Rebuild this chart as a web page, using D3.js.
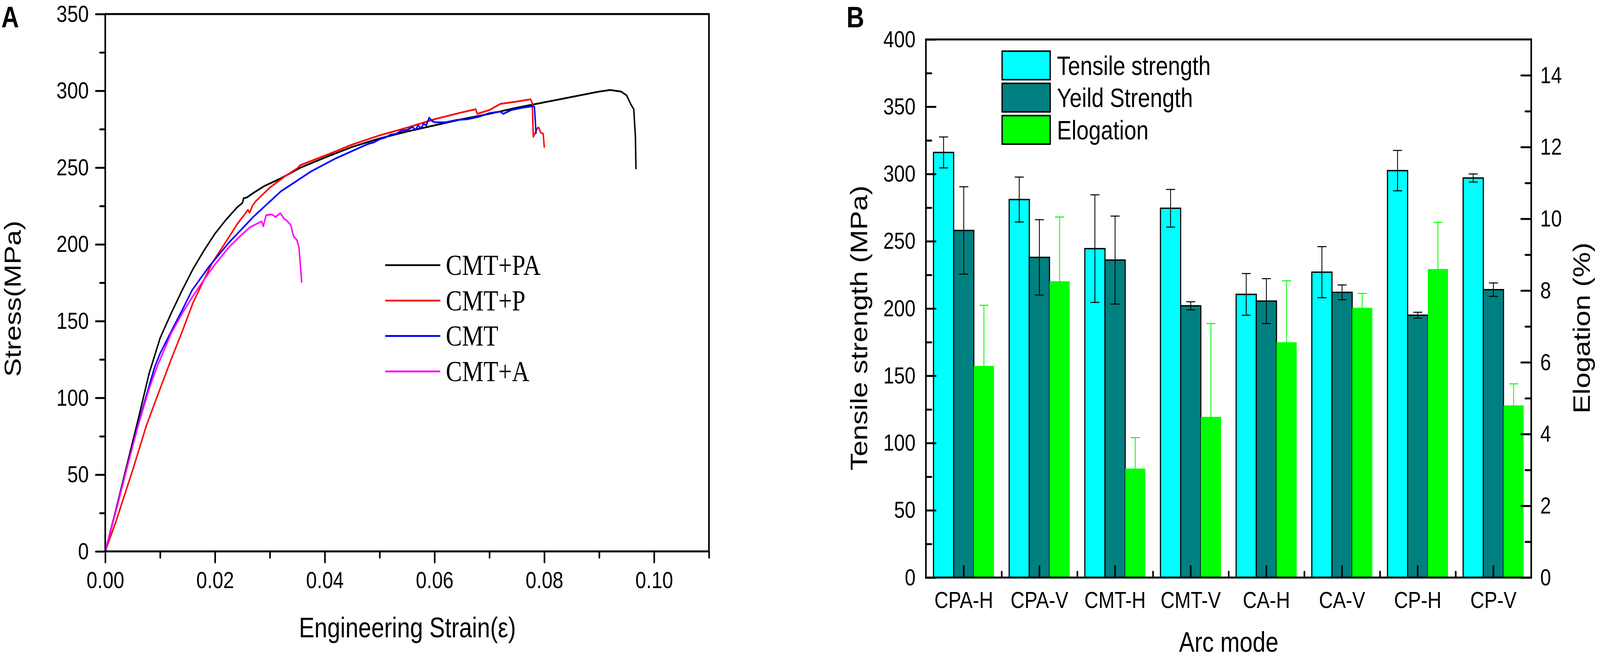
<!DOCTYPE html>
<html>
<head>
<meta charset="utf-8">
<script src="https://cdn.jsdelivr.net/npm/d3@7"></script>
<style>
html, body { margin: 0; padding: 0; background: #fff; overflow: hidden; }
#fig { display: block; width: 100vw; height: 100vh; }
svg text { font-family: "Liberation Sans", Arial, sans-serif; fill: #000; }
</style>
</head>
<body>
<svg id="fig" viewBox="0 0 4956 1685" preserveAspectRatio="none"></svg>
<script>
// ---- panel A: stress-strain curves [strain, stress MPa]
const curveNames = ['CMT+PA', 'CMT+P', 'CMT', 'CMT+A'];
const curveColors = ['#000000', '#ff0000', '#0000ff', '#ff00ff'];
const cmtPA = [[0, 0], [0.002, 28], [0.004, 57], [0.006, 86], [0.008, 116], [0.010, 139], [0.012, 155],
    [0.014, 170], [0.016, 184], [0.018, 196], [0.020, 207], [0.022, 216], [0.024, 224], [0.025, 227],
    [0.0252, 230], [0.0258, 230.5], [0.027, 233.5], [0.029, 238], [0.032, 243], [0.0356, 250], [0.040, 256.5],
    [0.045, 263.5], [0.050, 269], [0.055, 273.5], [0.060, 277.5], [0.065, 281.5], [0.070, 285], [0.075, 289],
    [0.080, 292.5], [0.085, 296], [0.090, 299.5], [0.092, 300.5], [0.094, 299.5], [0.095, 297], [0.0958, 291],
    [0.0963, 288], [0.0966, 270], [0.0967, 249]];
const cmtP = [[0, 0], [0.002, 20], [0.004, 42], [0.005, 53], [0.0075, 82], [0.010, 106], [0.012, 125],
    [0.014, 143], [0.016, 162], [0.018, 177], [0.0195, 188], [0.0225, 204.5], [0.024, 213], [0.0255, 220],
    [0.026, 222.5], [0.0263, 220.5], [0.0268, 225], [0.0274, 228], [0.030, 237], [0.0326, 244], [0.035, 249.5],
    [0.0355, 251.5], [0.0413, 259.6], [0.045, 265], [0.050, 271], [0.055, 276], [0.060, 281.5], [0.065, 286],
    [0.0675, 288], [0.0678, 285], [0.070, 287.5], [0.072, 291.5], [0.075, 293], [0.0775, 294.5], [0.0778, 292],
    [0.0780, 270], [0.0784, 273], [0.0788, 276], [0.079, 276], [0.0793, 273], [0.0798, 272], [0.080, 263]];
const cmt = [[0, 0], [0.002, 27], [0.004, 55], [0.006, 83], [0.008, 108], [0.009, 120], [0.010, 129],
    [0.0124, 146], [0.014, 157], [0.0158, 170], [0.0188, 185], [0.0225, 201], [0.027, 218], [0.032, 234.5],
    [0.0375, 247.5], [0.042, 256], [0.047, 264], [0.048, 265.5], [0.049, 266.5], [0.050, 268.5], [0.051, 269.5],
    [0.052, 271.5], [0.053, 272], [0.054, 274], [0.055, 274.5], [0.056, 276.5], [0.0565, 274.5],
    [0.057, 277.5], [0.0575, 275.5], [0.058, 278.5], [0.0585, 277.5], [0.059, 282.5], [0.0595, 280.5],
    [0.060, 279.5], [0.062, 279.5], [0.064, 281], [0.066, 281.5], [0.068, 283], [0.070, 285.5],
    [0.072, 286.5], [0.0725, 285], [0.074, 287.5], [0.076, 289], [0.078, 290], [0.0782, 289.5], [0.0785, 272]];
const cmtA = [[0, 0], [0.002, 27], [0.004, 55], [0.006, 82], [0.008, 106], [0.0094, 120], [0.012, 142],
    [0.014, 155], [0.0161, 167], [0.018, 177], [0.020, 187], [0.0225, 198], [0.0245, 205], [0.0263, 211],
    [0.0285, 215], [0.0288, 211.7], [0.0293, 219], [0.0304, 219.5], [0.031, 217.8], [0.0319, 220.3],
    [0.0326, 216.6], [0.033, 215.7], [0.0338, 212.6], [0.0343, 205.3], [0.0349, 202.9], [0.0353, 198],
    [0.0358, 175]];
const strainTicks = [0, 0.02, 0.04, 0.06, 0.08, 0.10];
const strainMinor = [0.01, 0.03, 0.05, 0.07, 0.09, 0.11];
const stressTicks = [0, 50, 100, 150, 200, 250, 300, 350];
const stressMinor = [25, 75, 125, 175, 225, 275, 325];

// ---- panel B: mechanical properties per arc mode
const arcModes = ['CPA-H', 'CPA-V', 'CMT-H', 'CMT-V', 'CA-H', 'CA-V', 'CP-H', 'CP-V'];
const tensile = [316, 281, 244.5, 274.5, 210.5, 227, 302.5, 297];
const tensileErr = [11.5, 16.7, 40, 14, 15.5, 19, 15, 3];
const yieldStr = [258, 238, 236, 202, 205.5, 212, 195, 214];
const yieldErr = [32.5, 28, 32.7, 3, 16.7, 5.5, 2.2, 5];
const elong = [5.9, 8.26, 3.04, 4.48, 6.56, 7.52, 8.6, 4.8];
const elongErr = [1.69, 1.79, 0.86, 2.6, 1.71, 0.4, 1.3, 0.6];
const barNames = ['Tensile strength', 'Yeild Strength', 'Elogation'];
const barColors = ['#00ffff', '#008080', '#00ff00'];
const leftTicks = [0, 50, 100, 150, 200, 250, 300, 350, 400];
const leftMinor = [25, 75, 125, 175, 225, 275, 325, 375];
const rightTicks = [0, 2, 4, 6, 8, 10, 12, 14];
const rightMinor = [1, 3, 5, 7, 9, 11, 13];

const svg = d3.select('#fig');
const serif = '"Liberation Serif", "Times New Roman", serif';

function styleAxis(g, fontSize) {
    g.select('.domain').remove();
    g.selectAll('.tick line').attr('stroke', '#000').attr('stroke-width', 5).attr('stroke-linecap', 'round');
    g.selectAll('.tick text').attr('font-size', fontSize).attr('fill', '#000');
    return g;
}

// ===================== panel A
const xA = d3.scaleLinear().domain([0, 0.11]).range([326, 2196]);
const yA = d3.scaleLinear().domain([0, 350]).range([1412, 36]);

const line = d3.line()
    .x(function (d) { return xA(d[0]); })
    .y(function (d) { return yA(d[1]); });

const curves = [cmtPA, cmtP, cmt, cmtA];
svg.append('g').selectAll('path.curve')
    .data(curves)
    .enter().append('path')
    .classed('curve', true)
    .attr('d', line)
    .attr('fill', 'none')
    .attr('stroke', function (d, i) { return curveColors[i]; })
    .attr('stroke-width', 4.5)
    .attr('stroke-linejoin', 'round');

styleAxis(svg.append('g').attr('transform', 'translate(326,0)')
    .call(d3.axisLeft(yA).tickValues(stressTicks).tickSizeInner(29).tickSizeOuter(0)
        .tickPadding(22).tickFormat(d3.format('d'))), 60);
styleAxis(svg.append('g').attr('transform', 'translate(326,0)')
    .call(d3.axisLeft(yA).tickValues(stressMinor).tickSize(16).tickFormat('')), 0);
styleAxis(svg.append('g').attr('transform', 'translate(0,1412)')
    .call(d3.axisBottom(xA).tickValues(strainTicks).tickSizeInner(28).tickSizeOuter(0)
        .tickPadding(23).tickFormat(d3.format('.2f'))), 60);
styleAxis(svg.append('g').attr('transform', 'translate(0,1412)')
    .call(d3.axisBottom(xA).tickValues(strainMinor).tickSize(16).tickFormat('')), 0);

svg.append('rect')
    .attr('x', xA(0)).attr('y', yA(350))
    .attr('width', xA(0.11) - xA(0)).attr('height', yA(0) - yA(350))
    .attr('fill', 'none').attr('stroke', '#000').attr('stroke-width', 5);

// legend A
const legA = svg.append('g').selectAll('g').data(curveNames).enter().append('g')
    .attr('transform', function (d, i) { return 'translate(0,' + (679 + i * 90.7) + ')'; });
legA.append('line')
    .attr('x1', 1195).attr('x2', 1362)
    .attr('stroke', function (d, i) { return curveColors[i]; })
    .attr('stroke-width', 4.6).attr('stroke-linecap', 'round');
legA.append('text')
    .attr('x', 1381).attr('y', 25)
    .style('font-family', serif)
    .attr('font-size', 75)
    .text(function (d) { return d; });

svg.append('text').attr('x', 1262).attr('y', 1632).attr('text-anchor', 'middle')
    .attr('font-size', 72).text('Engineering Strain(\u03b5)');
svg.append('text').attr('transform', 'translate(64,765) rotate(-90)').attr('text-anchor', 'middle')
    .attr('font-size', 72).text('Stress(MPa)');
svg.append('text').attr('x', 4).attr('y', 70).attr('font-size', 76).attr('font-weight', 'bold').text('A');

// ===================== panel B
const x0 = d3.scaleBand().domain(arcModes).range([2868, 4743]);
const bw = x0.bandwidth();
const x1 = d3.scaleBand().domain(barNames).range([bw * 0.1, bw * 0.9]);
const yL = d3.scaleLinear().domain([0, 400]).range([1479, 101]);
const yR = d3.scaleLinear().domain([0, 15]).range([1479, 101]);

const series = [
    { name: barNames[0], vals: tensile, errs: tensileErr, scale: yL, fill: barColors[0], stroke: '#000', err: '#000' },
    { name: barNames[1], vals: yieldStr, errs: yieldErr, scale: yL, fill: barColors[1], stroke: '#000', err: '#000' },
    { name: barNames[2], vals: elong, errs: elongErr, scale: yR, fill: barColors[2], stroke: 'none', err: '#00ff00' }
];

series.forEach(function (s) {
    const rows = arcModes.map(function (c, i) { return { c: c, v: s.vals[i], e: s.errs[i] }; });
    svg.append('g').selectAll('rect')
        .data(rows)
        .enter().append('rect')
        .attr('x', function (d) { return x0(d.c) + x1(s.name); })
        .attr('y', function (d) { return s.scale(d.v); })
        .attr('width', x1.bandwidth())
        .attr('height', function (d) { return s.scale(0) - s.scale(d.v); })
        .attr('fill', s.fill)
        .attr('stroke', s.stroke)
        .attr('stroke-width', 3.5);
    s.rows = rows;
});

series.forEach(function (s) {
    const g = svg.append('g').attr('stroke', s.err).attr('stroke-width', 2.6);
    const cx = function (d) { return x0(d.c) + x1(s.name) + x1.bandwidth() / 2; };
    const eb = g.selectAll('g').data(s.rows).enter().append('g');
    eb.append('line')
        .attr('x1', cx).attr('x2', cx)
        .attr('y1', function (d) { return s.scale(d.v + d.e); })
        .attr('y2', function (d) { return s.scale(d.v - d.e); });
    [1, -1].forEach(function (sign) {
        eb.append('line')
            .attr('x1', function (d) { return cx(d) - 14; })
            .attr('x2', function (d) { return cx(d) + 14; })
            .attr('y1', function (d) { return s.scale(d.v + sign * d.e); })
            .attr('y2', function (d) { return s.scale(d.v + sign * d.e); });
    });
});

styleAxis(svg.append('g').attr('transform', 'translate(2868,0)')
    .call(d3.axisLeft(yL).tickValues(leftTicks).tickSizeInner(-30).tickSizeOuter(0).tickPadding(32)), 60);
styleAxis(svg.append('g').attr('transform', 'translate(2868,0)')
    .call(d3.axisLeft(yL).tickValues(leftMinor).tickSize(-17).tickFormat('')), 0);
styleAxis(svg.append('g').attr('transform', 'translate(4743,0)')
    .call(d3.axisRight(yR).tickValues(rightTicks).tickSizeInner(-31).tickSizeOuter(0).tickPadding(28)), 60);
styleAxis(svg.append('g').attr('transform', 'translate(4743,0)')
    .call(d3.axisRight(yR).tickValues(rightMinor).tickSize(-18).tickFormat('')), 0);
styleAxis(svg.append('g').attr('transform', 'translate(0,1479)')
    .call(d3.axisBottom(x0).tickSizeInner(-29).tickSizeOuter(0).tickPadding(35)), 60);
const xBound = d3.scaleLinear().domain([0, arcModes.length]).range(x0.range());
styleAxis(svg.append('g').attr('transform', 'translate(0,1479)')
    .call(d3.axisBottom(xBound).tickValues(d3.range(1, arcModes.length)).tickSize(-15).tickFormat('')), 0);

svg.append('rect')
    .attr('x', 2868).attr('y', yL(400))
    .attr('width', 4743 - 2868).attr('height', yL(0) - yL(400))
    .attr('fill', 'none').attr('stroke', '#000').attr('stroke-width', 5);

// legend B
const legB = svg.append('g').selectAll('g').data(barNames).enter().append('g')
    .attr('transform', function (d, i) { return 'translate(3104,' + (131 + i * 82.5) + ')'; });
legB.append('rect')
    .attr('width', 149).attr('height', 73)
    .attr('fill', function (d, i) { return barColors[i]; })
    .attr('stroke', '#000').attr('stroke-width', 4);
legB.append('text')
    .attr('x', 170).attr('y', 36.5).attr('dy', '0.36em')
    .attr('font-size', 68)
    .text(function (d) { return d; });

svg.append('text').attr('x', 3806).attr('y', 1669).attr('text-anchor', 'middle')
    .attr('font-size', 72).text('Arc mode');
svg.append('text').attr('transform', 'translate(2686,840) rotate(-90)').attr('text-anchor', 'middle')
    .attr('font-size', 73).text('Tensile strength (MPa)');
svg.append('text').attr('transform', 'translate(4925,840) rotate(-90)').attr('text-anchor', 'middle')
    .attr('font-size', 73).text('Elogation (%)');
svg.append('text').attr('x', 2622).attr('y', 70).attr('font-size', 76).attr('font-weight', 'bold').text('B');
</script>
</body>
</html>
